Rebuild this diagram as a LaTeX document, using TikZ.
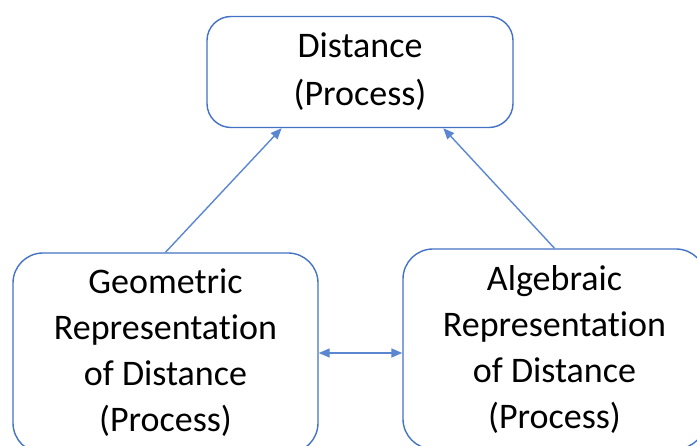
\documentclass[tikz,border=0pt]{standalone}
\usepackage{fontspec}
\setmainfont{Carlito}[RawFeature={-liga;-clig;-calt;-dlig}]
\usetikzlibrary{arrows.meta,calc}
\definecolor{boxblue}{HTML}{4472C4}
\definecolor{linkblue}{HTML}{5B87D0}
\tikzset{
  procbox/.style={draw=boxblue, line width=1.4pt, rounded corners=24pt, align=center,
    font=\fontsize{36}{46}\selectfont, text=black, inner sep=0pt},
  link/.style={draw=linkblue, line width=1.4pt, -{Triangle[length=11pt,width=9pt]}},
  dlink/.style={draw=linkblue, line width=1.4pt, {Triangle[length=11pt,width=9pt]}-{Triangle[length=11pt,width=9pt]}}
}
\begin{document}
\begin{tikzpicture}[x=1pt,y=1pt]
\useasboundingbox (0,0) rectangle (697,-446);
\clip (0,0) rectangle (697,-446);
\fill[white] (0,0) rectangle (697,-446);
\node[procbox, minimum width=306pt, minimum height=111pt, font=\fontsize{36}{48}\selectfont] (top) at (360,-72) {Distance\\(Process)};
\node[procbox, minimum width=305pt, minimum height=200pt, rounded corners=30pt] (geo) at (165.5,-353) {Geometric\\Representation\\of Distance\\(Process)};
\node[procbox, minimum width=303pt, minimum height=200pt, rounded corners=30pt] (alg) at (554.5,-349) {Algebraic\\Representation\\of Distance\\(Process)};
\draw[link] (geo.north) -- ($(top.south west)!0.245!(top.south east)$);
\draw[link] (alg.north) -- ($(top.south west)!0.771!(top.south east)$);
\draw[dlink] (geo.east) -- (alg.west |- geo.east);
\end{tikzpicture}
\end{document}
